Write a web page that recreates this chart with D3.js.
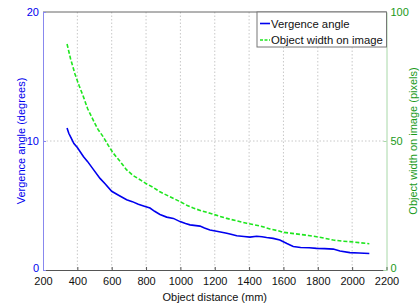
<!DOCTYPE html>
<html><head><meta charset="utf-8">
<script src="https://cdn.jsdelivr.net/npm/d3@7"></script>
<style>body{margin:0;background:#fff}svg{display:block;font-family:"Liberation Sans",Arial,sans-serif}</style>
</head><body>
<svg id="c" width="420" height="307"></svg>
<script>
const xTicks = [200,400,600,800,1000,1200,1400,1600,1800,2000,2200];
const leftTicks = [0,10,20];
const rightTicks = [0,50,100];
const vergenceDist = [340,350,365,380,400,435,460,493,532,560,600,640,687,720,755,790,823,850,881,920,959,998,1030,1056,1114,1140,1172,1211,1270,1300,1328,1370,1405,1444,1475,1502,1540,1579,1620,1657,1700,1750,1793,1840,1890,1929,1987,2040,2100];
const vergenceAngle = [11.0,10.6,10.2,9.8,9.5,8.8,8.4,7.8,7.1,6.7,6.1,5.8,5.45,5.3,5.1,4.95,4.8,4.55,4.3,4.1,4.0,3.75,3.6,3.5,3.4,3.25,3.1,3.0,2.85,2.75,2.65,2.6,2.55,2.62,2.58,2.52,2.45,2.33,2.05,1.82,1.75,1.72,1.68,1.66,1.62,1.47,1.35,1.32,1.28];
const widthDist = [340,360,386,410,435,460,493,520,551,580,609,650,687,725,765,800,842,881,939,998,1040,1075,1120,1172,1220,1270,1330,1386,1463,1522,1570,1600,1650,1696,1745,1793,1840,1890,1940,1987,2040,2100];
const widthPx = [87.6,82,76,71.5,67.2,62.5,58,54.5,51.6,48.3,45.3,42,38.8,36.6,35,33.5,32,30.3,28.4,26.5,25,24,23,22,21,20,19,18.1,17.1,15.9,15.2,14.6,14.2,13.8,13.4,12.9,12.3,11.6,11.2,11.0,10.6,10.2];
const seriesNames = ["Vergence angle","Object width on image"];

const svg = d3.select("#c");
const L=43, R=386.5, T=12, B=270;
const x = d3.scaleLinear().domain([200,2200]).range([L,R]);
const yL = d3.scaleLinear().domain([0,20]).range([B,T]);
const yR = d3.scaleLinear().domain([0,100]).range([B,T]);
const blue="#0000ee", green="#1ee61e", greenTxt="#1a9a1a";

// grid
svg.append("g").selectAll("line").data(xTicks.slice(1,-1)).join("line")
  .attr("x1",d=>x(d)).attr("x2",d=>x(d)).attr("y1",T).attr("y2",B)
  .attr("stroke","#c8c8c8").attr("stroke-width",1).attr("stroke-dasharray","1.5,2");
svg.append("line").attr("x1",L).attr("x2",R).attr("y1",yL(10)).attr("y2",yL(10))
  .attr("stroke","#c8c8c8").attr("stroke-dasharray","1.5,2");

// x axis
const xa = svg.append("g").attr("transform",`translate(0,${B})`)
  .call(d3.axisBottom(x).tickValues(xTicks).tickSize(-3).tickPadding(7).tickFormat(d3.format("d")));
xa.select(".domain").attr("stroke","#555");
xa.selectAll(".tick line").attr("stroke","#555");
xa.selectAll("text").attr("font-size",11).attr("fill","#111").attr("font-family","Liberation Sans, Arial");
// top border
svg.append("line").attr("x1",L).attr("x2",R).attr("y1",T).attr("y2",T).attr("stroke","#666");

// left axis
const la = svg.append("g").attr("transform",`translate(${L},0)`)
  .call(d3.axisLeft(yL).tickValues(leftTicks).tickSize(-3).tickPadding(4));
la.select(".domain").attr("stroke","#8888ee");
la.selectAll(".tick line").attr("stroke","#8888ee");
la.selectAll("text").attr("font-size",11).attr("fill",blue).attr("font-family","Liberation Sans, Arial");
la.selectAll(".tick").filter(d=>d===0).select("text").attr("y",-2);

// right axis
const ra = svg.append("g").attr("transform",`translate(${R},0)`)
  .call(d3.axisRight(yR).tickValues(rightTicks).tickSize(-3).tickPadding(4));
ra.select(".domain").attr("stroke","#a8d8a8");
ra.selectAll(".tick line").attr("stroke","#a8d8a8");
ra.selectAll("text").attr("font-size",11).attr("fill",greenTxt).attr("font-family","Liberation Sans, Arial");
ra.selectAll(".tick").filter(d=>d===0).select("text").attr("y",-2);

// lines
const lineL = d3.line().x(d=>x(d[0])).y(d=>yL(d[1]));
const lineR = d3.line().x(d=>x(d[0])).y(d=>yR(d[1]));
svg.append("path").datum(widthDist.map((d,i)=>[d,widthPx[i]])).attr("d",lineR)
  .attr("fill","none").attr("stroke",green).attr("stroke-width",1.6).attr("stroke-dasharray","4,2");
svg.append("path").datum(vergenceDist.map((d,i)=>[d,vergenceAngle[i]])).attr("d",lineL)
  .attr("fill","none").attr("stroke",blue).attr("stroke-width",1.6);

// labels
svg.append("text").attr("x",(L+R)/2).attr("y",301).attr("text-anchor","middle")
  .attr("font-size",11).attr("fill","#111").text("Object distance (mm)");
svg.append("text").attr("transform",`translate(25,${(T+B)/2}) rotate(-90)`).attr("text-anchor","middle")
  .attr("font-size",11).attr("fill",blue).text("Vergence angle (degrees)");
svg.append("text").attr("transform",`translate(417,${(T+B)/2}) rotate(-90)`).attr("text-anchor","middle")
  .attr("font-size",11).attr("fill",greenTxt).text("Object width on image (pixels)");

// legend
const lg = svg.append("g");
lg.append("rect").attr("x",257).attr("y",T).attr("width",R-257).attr("height",35)
  .attr("fill","#fff").attr("stroke","#777");
const ly=[23.5,40];
lg.append("line").attr("x1",260).attr("x2",270).attr("y1",ly[0]).attr("y2",ly[0]).attr("stroke",blue).attr("stroke-width",1.6);
lg.append("line").attr("x1",260).attr("x2",270).attr("y1",ly[1]).attr("y2",ly[1]).attr("stroke",green).attr("stroke-width",1.6).attr("stroke-dasharray","3,1.5");
seriesNames.forEach((n,i)=>lg.append("text").attr("x",271).attr("y",ly[i]+4).attr("font-size",11.3).attr("fill","#111").text(n));
</script>
</body></html>
